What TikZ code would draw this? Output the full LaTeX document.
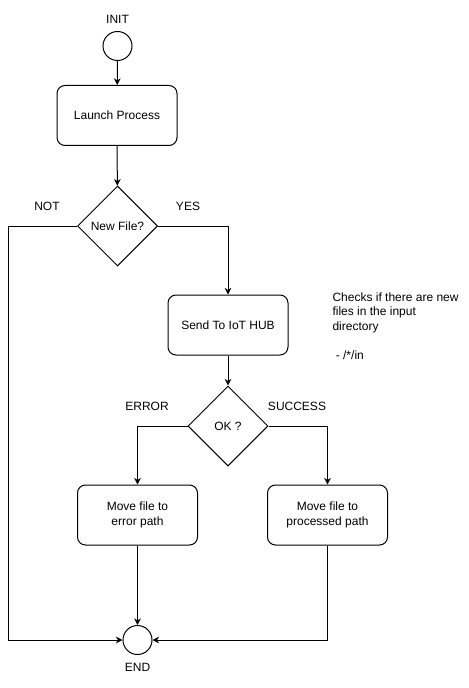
\documentclass[tikz,border=0pt]{standalone}
\usepackage{fontspec}
\setmainfont{Liberation Sans}
\usetikzlibrary{shapes.geometric,arrows.meta}

\begin{document}
\begin{tikzpicture}[
		x=0.75pt, y=-0.75pt,
		line width=0.75pt,
		font=\fontsize{9}{11}\selectfont,
		terminal/.style={circle, draw, minimum size=21.75pt, inner sep=0pt},
		process/.style={rectangle, draw, rounded corners=6pt, minimum width=90pt, minimum height=45pt, align=center},
		decision/.style={diamond, draw, minimum width=60pt, minimum height=60pt, inner sep=0pt},
		flow/.style={-{Stealth[length=5pt,width=5pt]}},
	]
		\useasboundingbox (0,0) rectangle (468,688);
		\node [terminal] (init) at (117.5,46) {};
		\node (initlbl) at (117.5,19) {INIT};
		\node [process] (launch) at (117,115.5) {Launch Process};
		\node [decision] (newfile) at (117.5,226) {New File?};
		\node (notlbl) at (47,206) {NOT};
		\node (yeslbl) at (188,206) {YES};
		\node [process] (send) at (228,325) {Send To IoT HUB};
		\node [decision] (ok) at (228,426) {OK ?};
		\node (errlbl) at (147,406) {ERROR};
		\node (succlbl) at (297,406) {SUCCESS};
		\node [process] (errmove) at (137.5,515) {Move file to\\error path};
		\node [process] (okmove) at (327.5,515) {Move file to\\processed path};
		\node [terminal] (end) at (137.5,640) {};
		\node (endlbl) at (137.5,667) {END};
		\node [anchor=north west, align=left, inner sep=0pt] (note) at (332,292) {Checks if there are new\\files in the input\\directory\\[11pt]\hspace{2.5pt}- /*/in};
		\coordinate (notcorner) at (8,226);
		
		\draw [flow] (init) -- (launch);
		\draw [flow] (launch) -- (newfile);
		\draw [flow] (newfile.west) -- (notcorner) |- (end.west);
		\draw [flow] (newfile.east) -| (send.north);
		\draw [flow] (send) -- (ok);
		\draw [flow] (ok.west) -| (errmove.north);
		\draw [flow] (ok.east) -| (okmove.north);
		\draw [flow] (errmove) -- (end);
		\draw [flow] (okmove.south) |- (end.east);
	\end{tikzpicture}
\end{document}
